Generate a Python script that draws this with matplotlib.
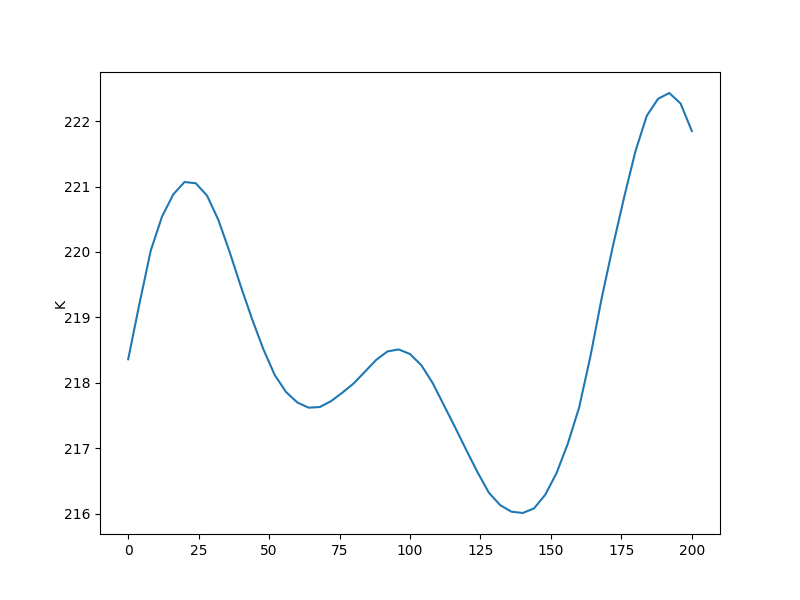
import matplotlib
matplotlib.use("Agg")
import matplotlib.pyplot as plt

# temperatura wzdłuż profilu
x = list(range(0, 201, 4))
temp_k = [218.36, 219.21, 220.02, 220.54, 220.88, 221.07, 221.05, 220.86,
          220.49, 220.00, 219.47, 218.97, 218.51, 218.12, 217.86, 217.70,
          217.62, 217.63, 217.72, 217.85, 217.99, 218.17, 218.35, 218.48,
          218.51, 218.44, 218.27, 218.00, 217.66, 217.32, 216.97, 216.63,
          216.32, 216.13, 216.03, 216.01, 216.08, 216.29, 216.62, 217.07,
          217.62, 218.40, 219.29, 220.09, 220.84, 221.54, 222.08, 222.34,
          222.43, 222.27, 221.85]

fig, ax = plt.subplots(figsize=(8, 6), dpi=100)
ax.plot(x, temp_k)
ax.set_ylabel('K', labelpad=-3)
fig.savefig('out.png')
